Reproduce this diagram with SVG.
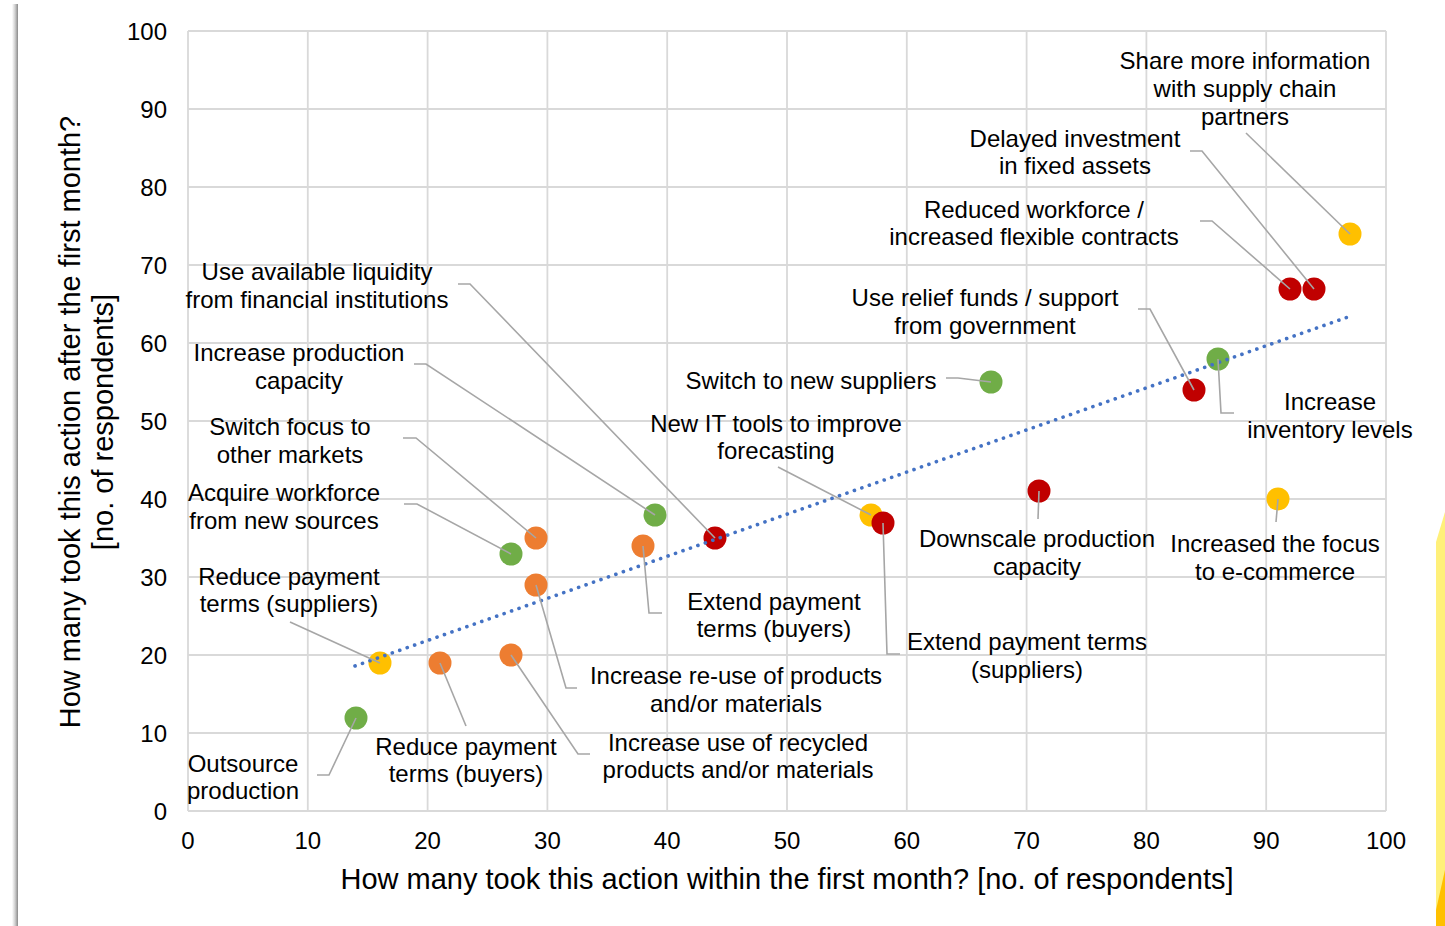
<svg xmlns="http://www.w3.org/2000/svg" width="1445" height="926" viewBox="0 0 1445 926">
<defs>
<linearGradient id="shadow" x1="0" y1="0" x2="1" y2="0">
<stop offset="0" stop-color="#ffffff"/>
<stop offset="0.5" stop-color="#d0d0d0"/>
<stop offset="1" stop-color="#8a8a8a"/>
</linearGradient>
<style>
.grid{stroke:#D9D9D9;stroke-width:1.8;fill:none}
.tick{font-family:"Liberation Sans",Arial,sans-serif;font-size:24px;fill:#000}
.lbl{font-family:"Liberation Sans",Arial,sans-serif;font-size:24px;fill:#000;text-anchor:middle}
.title{font-family:"Liberation Sans",Arial,sans-serif;font-size:29px;fill:#000;text-anchor:middle}
.lead{stroke:#A6A6A6;stroke-width:1.6;fill:none}
.red{fill:#C00000}.grn{fill:#70AD47}.org{fill:#ED7D31}.yel{fill:#FFC000}
</style>
</defs>
<rect width="1445" height="926" fill="#ffffff"/>
<rect x="12" y="4" width="6" height="922" fill="url(#shadow)"/>
<polygon points="1436,542 1445,512 1445,926 1436,926" fill="#FFF07A"/>
<polygon points="1436,910 1445,870 1445,926 1436,926" fill="#FFC000"/>

<g id="grid">
<path class="grid" d="M188,31V811M307.8,31V811M427.6,31V811M547.4,31V811M667.2,31V811M787,31V811M906.8,31V811M1026.6,31V811M1146.4,31V811M1266.2,31V811M1386,31V811"/>
<path class="grid" d="M188,811H1386M188,733H1386M188,655H1386M188,577H1386M188,499H1386M188,421H1386M188,343H1386M188,265H1386M188,187H1386M188,109H1386M188,31H1386"/>
</g>

<g id="y-ticks" class="tick" text-anchor="end">
<text x="167" y="819.5">0</text>
<text x="167" y="741.5">10</text>
<text x="167" y="663.5">20</text>
<text x="167" y="585.5">30</text>
<text x="167" y="507.5">40</text>
<text x="167" y="429.5">50</text>
<text x="167" y="351.5">60</text>
<text x="167" y="273.5">70</text>
<text x="167" y="195.5">80</text>
<text x="167" y="117.5">90</text>
<text x="167" y="39.5">100</text>
</g>
<g id="x-ticks" class="tick" text-anchor="middle">
<text x="188" y="848.5">0</text>
<text x="307.8" y="848.5">10</text>
<text x="427.6" y="848.5">20</text>
<text x="547.4" y="848.5">30</text>
<text x="667.2" y="848.5">40</text>
<text x="787" y="848.5">50</text>
<text x="906.8" y="848.5">60</text>
<text x="1026.6" y="848.5">70</text>
<text x="1146.4" y="848.5">80</text>
<text x="1266.2" y="848.5">90</text>
<text x="1386" y="848.5">100</text>
</g>
<g id="axis-titles">
<text class="title" x="787" y="889">How many took this action within the first month? [no. of respondents]</text>
<text class="title" transform="translate(80,422) rotate(-90)">How many took this action after the first month?</text>
<text class="title" transform="translate(113,422) rotate(-90)">[no. of respondents]</text>
</g>

<g id="points">
<circle id="p-share" class="yel" cx="1350" cy="234" r="11.5"/>
<circle id="p-ecommerce" class="yel" cx="1278" cy="499" r="11.5"/>
<circle id="p-itTools" class="yel" cx="871" cy="515" r="11.5"/>
<circle id="p-reduceSup" class="yel" cx="380" cy="663" r="11.5"/>
<circle id="p-inventory" class="grn" cx="1218" cy="359" r="11.5"/>
<circle id="p-newSuppliers" class="grn" cx="991" cy="382" r="11.5"/>
<circle id="p-prodCap" class="grn" cx="655" cy="515" r="11.5"/>
<circle id="p-workforce" class="grn" cx="511" cy="554" r="11.5"/>
<circle id="p-outsource" class="grn" cx="356" cy="718" r="11.5"/>
<circle id="p-extBuyers" class="org" cx="643" cy="546" r="11.5"/>
<circle id="p-markets" class="org" cx="536" cy="538" r="11.5"/>
<circle id="p-reuse" class="org" cx="536" cy="585" r="11.5"/>
<circle id="p-reduceBuy" class="org" cx="440" cy="663" r="11.5"/>
<circle id="p-recycled" class="org" cx="511" cy="655" r="11.5"/>
<circle id="p-reducedWf" class="red" cx="1290" cy="289" r="11.5"/>
<circle id="p-delayed" class="red" cx="1314" cy="289" r="11.5"/>
<circle id="p-relief" class="red" cx="1194" cy="390" r="11.5"/>
<circle id="p-downscale" class="red" cx="1039" cy="491" r="11.5"/>
<circle id="p-extSup" class="red" cx="883" cy="523" r="11.5"/>
<circle id="p-liquidity" class="red" cx="715" cy="538" r="11.5"/>
</g>

<g id="trendline">
<line x1="355" y1="666" x2="1348" y2="317" stroke="#4472C4" stroke-width="3.6" stroke-linecap="round" stroke-dasharray="0.1 7.8"/>
</g>

<g id="connectors">
<path class="lead" d="M1246,133L1350,234"/>
<path class="lead" d="M1190,151H1202L1314,289"/>
<path class="lead" d="M1200,221H1212L1290,289"/>
<path class="lead" d="M1138,309H1150L1194,390"/>
<path class="lead" d="M1218,359L1221,413H1234"/>
<path class="lead" d="M946,378H958L991,382"/>
<path class="lead" d="M778,467L871,515"/>
<path class="lead" d="M1039,491L1038,519"/>
<path class="lead" d="M1278,499L1276,522"/>
<path class="lead" d="M883,523L887,654H900"/>
<path class="lead" d="M643,546L649,613H662"/>
<path class="lead" d="M536,585L566,688H577"/>
<path class="lead" d="M511,655L578,754H590"/>
<path class="lead" d="M440,663L466,726"/>
<path class="lead" d="M356,718L329,775H317"/>
<path class="lead" d="M290,622L380,663"/>
<path class="lead" d="M404,504H417L511,554"/>
<path class="lead" d="M403,438H416L536,538"/>
<path class="lead" d="M414,364H426L655,515"/>
<path class="lead" d="M458,284H470L715,538"/>
</g>

<g id="labels">
<g id="l-share"><text class="lbl" x="1245" y="68.5">Share more information</text><text class="lbl" x="1245" y="96.5">with supply chain</text><text class="lbl" x="1245" y="124.5">partners</text></g>
<g id="l-delayed"><text class="lbl" x="1075" y="146.5">Delayed investment</text><text class="lbl" x="1075" y="173.5">in fixed assets</text></g>
<g id="l-reducedWf"><text class="lbl" x="1034" y="217.5">Reduced workforce /</text><text class="lbl" x="1034" y="244.5">increased flexible contracts</text></g>
<g id="l-relief"><text class="lbl" x="985" y="305.5">Use relief funds / support</text><text class="lbl" x="985" y="333.5">from government</text></g>
<g id="l-newSuppliers"><text class="lbl" x="811" y="388.5">Switch to new suppliers</text></g>
<g id="l-inventory"><text class="lbl" x="1330" y="409.5">Increase</text><text class="lbl" x="1330" y="437.5">inventory levels</text></g>
<g id="l-itTools"><text class="lbl" x="776" y="431.5">New IT tools to improve</text><text class="lbl" x="776" y="458.5">forecasting</text></g>
<g id="l-downscale"><text class="lbl" x="1037" y="546.5">Downscale production</text><text class="lbl" x="1037" y="574.5">capacity</text></g>
<g id="l-ecommerce"><text class="lbl" x="1275" y="551.5">Increased the focus</text><text class="lbl" x="1275" y="579.5">to e-commerce</text></g>
<g id="l-extBuyers"><text class="lbl" x="774" y="609.5">Extend payment</text><text class="lbl" x="774" y="636.5">terms (buyers)</text></g>
<g id="l-extSup"><text class="lbl" x="1027" y="649.5">Extend payment terms</text><text class="lbl" x="1027" y="677.5">(suppliers)</text></g>
<g id="l-reuse"><text class="lbl" x="736" y="683.5">Increase re-use of products</text><text class="lbl" x="736" y="711.5">and/or materials</text></g>
<g id="l-recycled"><text class="lbl" x="738" y="750.5">Increase use of recycled</text><text class="lbl" x="738" y="777.5">products and/or materials</text></g>
<g id="l-reduceBuy"><text class="lbl" x="466" y="754.5">Reduce payment</text><text class="lbl" x="466" y="781.5">terms (buyers)</text></g>
<g id="l-outsource"><text class="lbl" x="243" y="771.5">Outsource</text><text class="lbl" x="243" y="798.5">production</text></g>
<g id="l-reduceSup"><text class="lbl" x="289" y="584.5">Reduce payment</text><text class="lbl" x="289" y="611.5">terms (suppliers)</text></g>
<g id="l-workforce"><text class="lbl" x="284" y="500.5">Acquire workforce</text><text class="lbl" x="284" y="528.5">from new sources</text></g>
<g id="l-markets"><text class="lbl" x="290" y="434.5">Switch focus to</text><text class="lbl" x="290" y="462.5">other markets</text></g>
<g id="l-prodCap"><text class="lbl" x="299" y="360.5">Increase production</text><text class="lbl" x="299" y="388.5">capacity</text></g>
<g id="l-liquidity"><text class="lbl" x="317" y="279.5">Use available liquidity</text><text class="lbl" x="317" y="307.5">from financial institutions</text></g>
</g>
</svg>
